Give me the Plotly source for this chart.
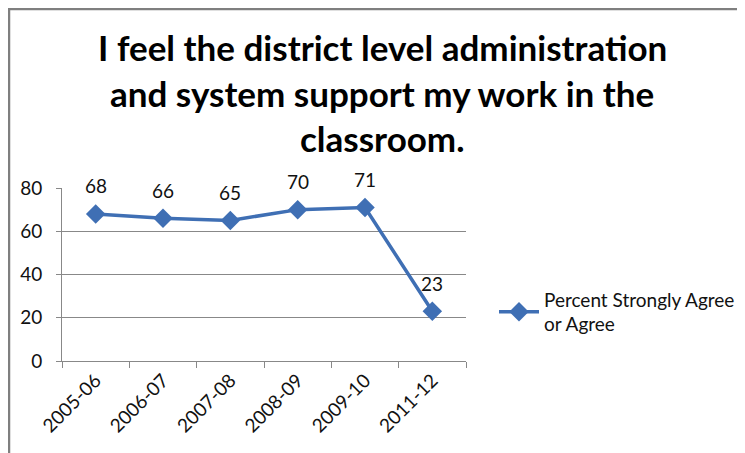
import plotly.graph_objects as go

categories = ["2005-06", "2006-07", "2007-08", "2008-09", "2009-10", "2011-12"]
values = [68, 66, 65, 70, 71, 23]
series_name = "Percent Strongly Agree<br>or Agree"
title_lines = [
    "I feel the district level administration",
    "and system support my work in the",
    "classroom.",
]
y_ticks = [0, 20, 40, 60, 80]

# page has an 8px body offset; figure coordinates = reference coordinates - 8
OFF = 8
W, H = 745, 453
L, R, T, B = 54, 287, 180, 100
plot_h = H - T - B
plot_w = W - L - R

def py(p):
    return (H - B - (p - OFF)) / plot_h

def px(p):
    return (p - OFF - L) / plot_w

color = "#3F6FB4"
font = "Lato, 'Open Sans', sans-serif"

fig = go.Figure()
fig.add_trace(go.Scatter(
    x=categories, y=values, mode="lines+markers", name=series_name,
    line=dict(color=color, width=3.5),
    marker=dict(symbol="diamond", size=15, color=color),
))

annotations = []
for c, v in zip(categories, values):
    annotations.append(dict(x=c, y=v, xref="x", yref="y", text=str(v), showarrow=False,
                            yshift=28, font=dict(family=font, size=19, color="#111")))
title_y = [47, 93, 138]
for t, yy in zip(title_lines, title_y):
    annotations.append(dict(x=px(382), y=py(yy), xref="paper", yref="paper", text="<b>%s</b>" % t,
                            showarrow=False, xanchor="center", yanchor="middle",
                            font=dict(family=font, size=35, color="#000")))

fig.update_layout(
    width=W, height=H,
    margin=dict(l=L, r=R, t=T, b=B),
    paper_bgcolor="white", plot_bgcolor="white",
    showlegend=True,
    legend=dict(x=px(494), y=py(312), xanchor="left", yanchor="middle",
                font=dict(family=font, size=19, color="#111"), itemwidth=40,
                bgcolor="rgba(0,0,0,0)"),
    annotations=annotations,
    shapes=[dict(type="rect", xref="paper", yref="paper",
                 x0=px(9), y0=py(480), x1=px(780), y1=py(9),
                 line=dict(color="#7f7f7f", width=2.5), layer="below")],
    xaxis=dict(type="category", range=[-0.5, 5.5], tickson="boundaries", ticks="outside",
               ticklen=6, tickcolor="#888", showline=True, linecolor="#888", linewidth=1,
               showgrid=False, tickangle=-45,
               tickfont=dict(family=font, size=19, color="#111")),
    yaxis=dict(range=[0, 80], tickvals=y_ticks, ticks="outside", ticklen=5, tickcolor="#888",
               showline=True, linecolor="#888", linewidth=1, showgrid=True,
               gridcolor="#888", gridwidth=1, zeroline=False, ticklabelstandoff=10,
               tickfont=dict(family=font, size=19, color="#111")),
)
fig.write_html("out.html")
